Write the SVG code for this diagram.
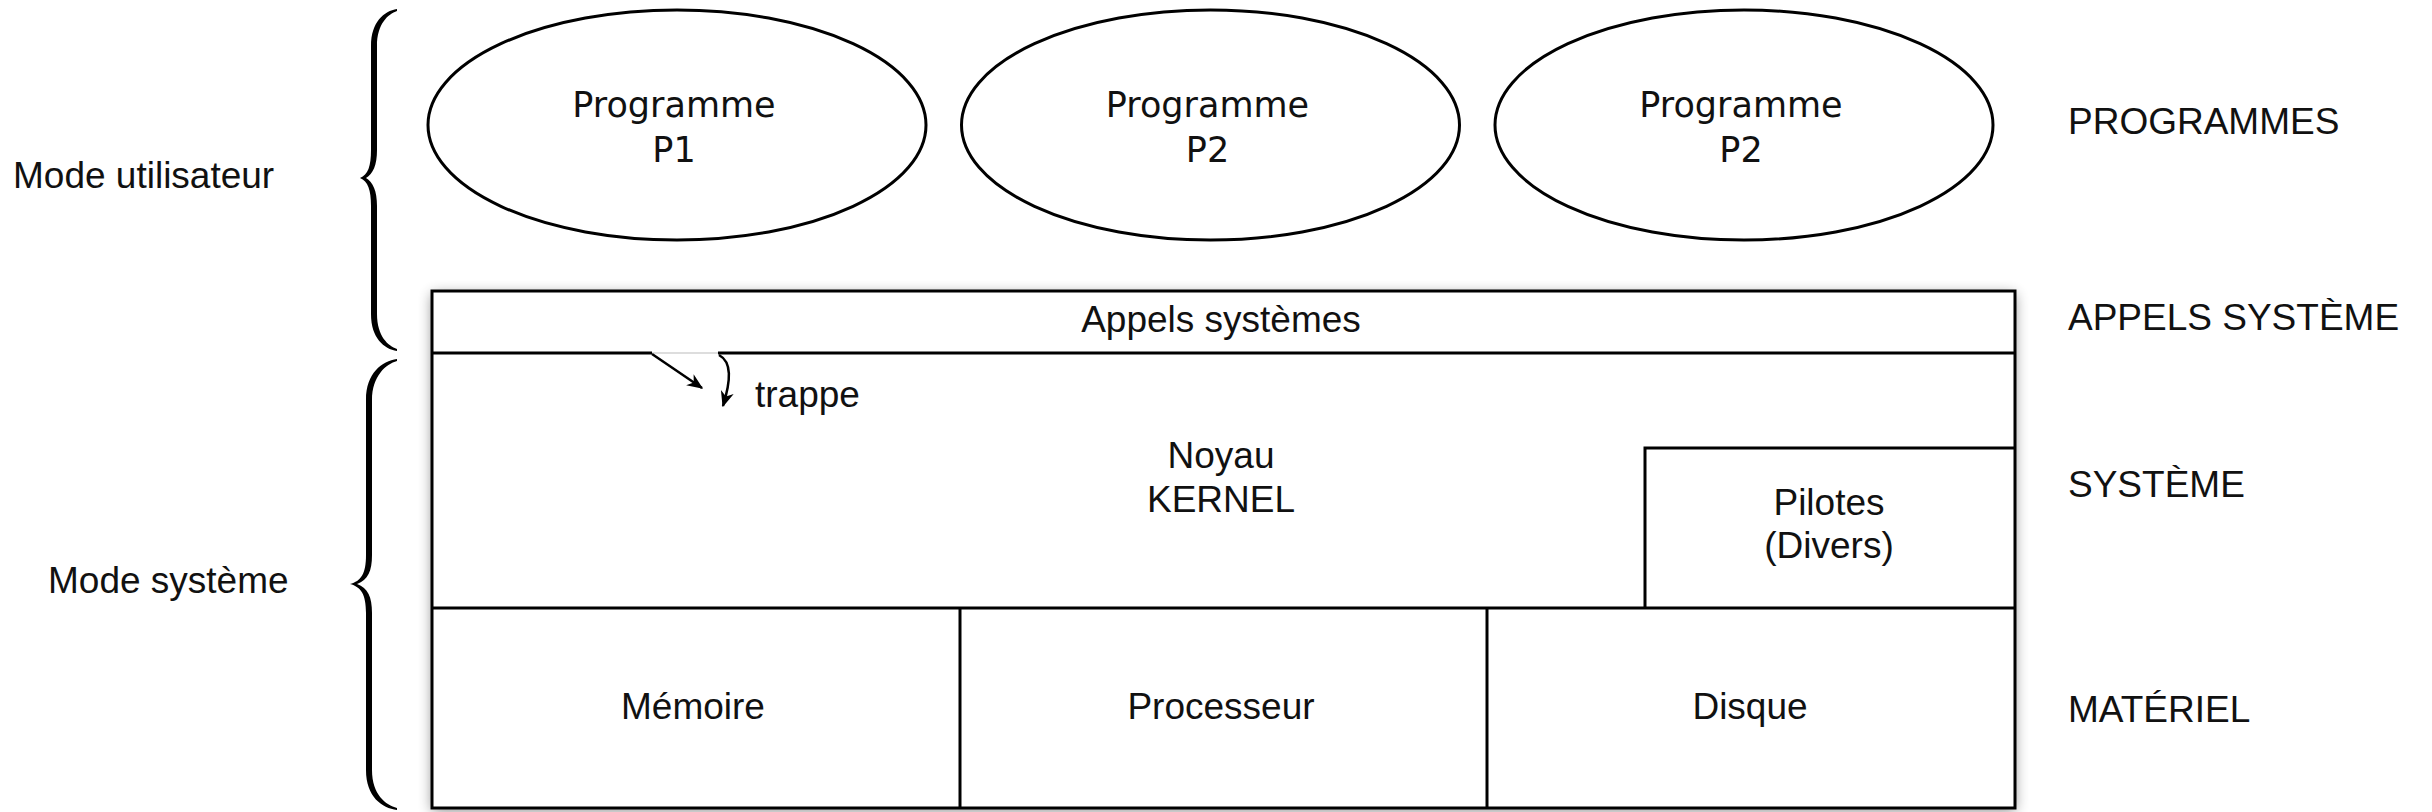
<svg xmlns="http://www.w3.org/2000/svg" width="2432" height="812" viewBox="0 0 2432 812">
  <style>
    .line { fill: none; stroke: #000; stroke-width: 3; }
    .lbl { font-family: "Liberation Sans", Arial, sans-serif; font-size: 37px; fill: #111; }
    .mid { text-anchor: middle; }
    .prog { font-family: "DejaVu Sans", sans-serif; font-size: 35px; fill: #111; text-anchor: middle; }
    .brace { fill: #000; stroke: none; }
    .arrow { fill: none; stroke: #000; stroke-width: 2.5; }
  </style>
  <defs>
    <filter id="shadow" x="-5%" y="-10%" width="110%" height="120%">
      <feGaussianBlur in="SourceAlpha" stdDeviation="7"/>
      <feOffset dx="0" dy="3" result="blur"/>
      <feComponentTransfer><feFuncA type="linear" slope="0.45"/></feComponentTransfer>
      <feMerge><feMergeNode/><feMergeNode in="SourceGraphic"/></feMerge>
    </filter>
    <marker id="head" viewBox="0 0 12 10" refX="11" refY="5" markerWidth="16" markerHeight="14" markerUnits="userSpaceOnUse" orient="auto">
      <path d="M0,0 L12,5 L0,10 L3.5,5 Z" fill="#000"/>
    </marker>
  </defs>

  <rect width="2432" height="812" fill="#fff"/>

  <!-- braces -->
  <g id="brace-user">
    <path class="brace" d="M397,9 C384,11 371,22 371,46 L371,150 C371,166 368,175 360,178 C368,181 371,190 371,206 L371,314 C371,338 384,349 397,351 L397,349 C388,346 377,336 377,314 L377,206 C377,191 373,182 366,178 C373,174 377,165 377,150 L377,46 C377,24 388,14 397,11 Z"/>
  </g>
  <g id="brace-system">
    <path class="brace" d="M397,359 C382,361 366,373 366,400 L366,555 C366,574 361,581 350,584 C361,587 366,594 366,613 L366,770 C366,797 382,808 397,810 L397,808 C386,805 372,795 372,770 L372,613 C372,597 368,588 357,584 C368,580 372,571 372,555 L372,400 C372,376 386,364 397,361 Z"/>
  </g>

  <!-- mode labels -->
  <g id="mode-labels">
    <text class="lbl" x="13" y="188">Mode utilisateur</text>
    <text class="lbl" x="48" y="593">Mode système</text>
  </g>

  <!-- user programs -->
  <g id="p1">
    <ellipse class="line" cx="677" cy="125" rx="249" ry="115" fill="#fff"/>
    <text class="prog" x="674" y="117">Programme</text>
    <text class="prog" x="674" y="162">P1</text>
  </g>
  <g id="p2">
    <ellipse class="line" cx="1210.5" cy="125" rx="249" ry="115" fill="#fff"/>
    <text class="prog" x="1207.5" y="117">Programme</text>
    <text class="prog" x="1207.5" y="162">P2</text>
  </g>
  <g id="p3">
    <ellipse class="line" cx="1744" cy="125" rx="249" ry="115" fill="#fff"/>
    <text class="prog" x="1741" y="117">Programme</text>
    <text class="prog" x="1741" y="162">P2</text>
  </g>

  <!-- system block -->
  <g id="system-block">
    <rect x="432" y="291" width="1583" height="517" fill="#fff" filter="url(#shadow)"/>
    <rect class="line" x="432" y="291" width="1583" height="517"/>
  </g>
  <g id="appels">
    <line class="line" x1="432" y1="353" x2="652" y2="353"/>
    <line x1="652" y1="353" x2="718" y2="353" stroke="#ddd" stroke-width="2"/>
    <line class="line" x1="718" y1="353" x2="2015" y2="353"/>
    <text class="lbl mid" x="1221" y="332">Appels systèmes</text>
  </g>
  <g id="noyau">
    <text class="lbl mid" x="1221" y="468">Noyau</text>
    <text class="lbl mid" x="1221" y="512">KERNEL</text>
  </g>
  <g id="pilotes">
    <path class="line" d="M1645,608 L1645,448 L2015,448"/>
    <text class="lbl mid" x="1829" y="515">Pilotes</text>
    <text class="lbl mid" x="1829" y="558">(Divers)</text>
  </g>
  <g id="materiel">
    <line class="line" x1="432" y1="608" x2="2015" y2="608"/>
    <line class="line" x1="960" y1="608" x2="960" y2="808"/>
    <line class="line" x1="1487" y1="608" x2="1487" y2="808"/>
  </g>
  <g id="memoire"><text class="lbl mid" x="693" y="719">Mémoire</text></g>
  <g id="processeur"><text class="lbl mid" x="1221" y="719">Processeur</text></g>
  <g id="disque"><text class="lbl mid" x="1750" y="719">Disque</text></g>

  <!-- trap connectors -->
  <g id="connectors">
    <path class="arrow" d="M652,354 L702,388" marker-end="url(#head)"/>
    <path class="arrow" d="M719,355 C732,362 731,380 723,406" marker-end="url(#head)"/>
  </g>
  <g id="trappe"><text class="lbl" x="755" y="407">trappe</text></g>

  <!-- layer names -->
  <g id="layer-labels">
    <text class="lbl" x="2068" y="134">PROGRAMMES</text>
    <text class="lbl" x="2068" y="330">APPELS SYSTÈME</text>
    <text class="lbl" x="2068" y="497">SYSTÈME</text>
    <text class="lbl" x="2068" y="722">MATÉRIEL</text>
  </g>
</svg>
